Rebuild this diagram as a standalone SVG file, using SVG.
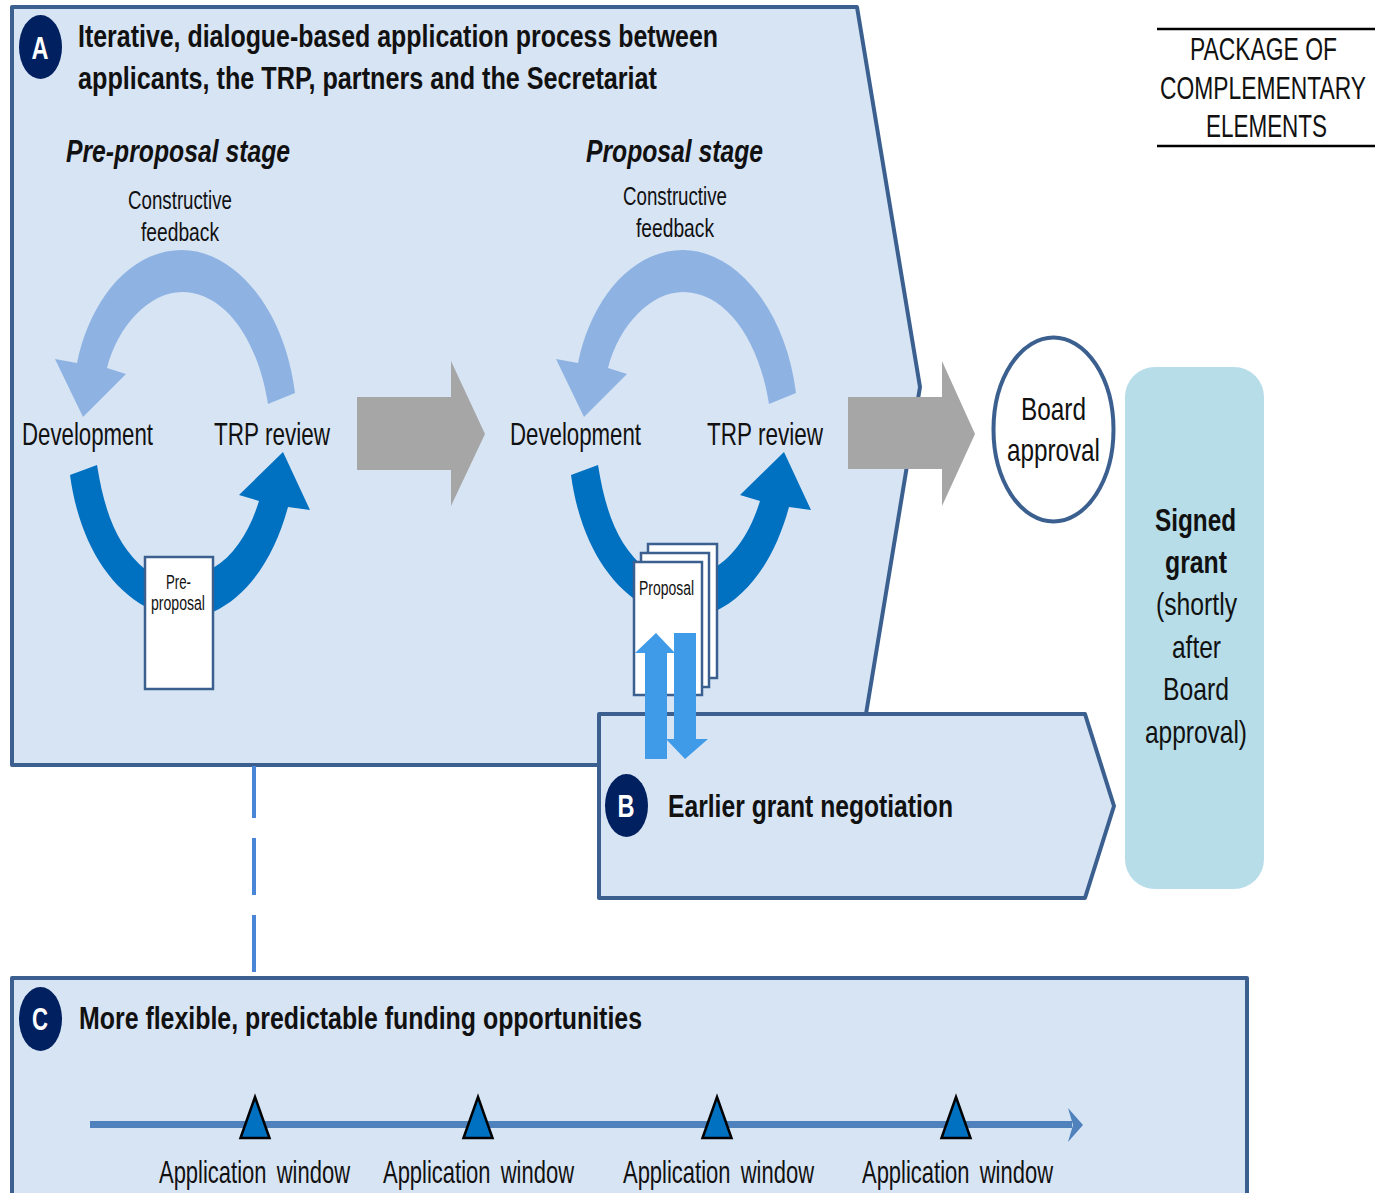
<svg xmlns="http://www.w3.org/2000/svg" width="1375" height="1193" viewBox="0 0 1375 1193">
<style>
text{font-family:"Liberation Sans",Arial,sans-serif;fill:#111}
.bi{font-weight:bold;font-style:italic;font-size:32px}
.t{font-size:32px;font-weight:bold}
.l{font-size:31.5px}
.aw{font-size:31.5px;word-spacing:6px}
.s{font-size:25px}
.d{font-size:20.5px}
.w{fill:#fff;font-weight:bold;font-size:32px;text-anchor:middle}
.box{fill:#d7e4f4;stroke:#3b6090;stroke-width:4;stroke-linejoin:round}
.doc{fill:#fff;stroke:#3b6090;stroke-width:2.5}
.gray{fill:#a6a6a6}
.light{fill:#8eb3e3}
.dark{fill:#0070c0}
.mid{fill:#3f9be8}
.tri{fill:#0070c0;stroke:#000;stroke-width:2.5;stroke-linejoin:miter}
.badge{fill:#002060}
</style>
<defs>
<path id="loopLight" class="light" d="M295,393C285,310 235,250 182,250C130,250 90,300 77,363L55,359L83,417L126,374L107,368C118,325 150,292 182,292C225,292 258,340 268,404Z"/>
<path id="loopDark" class="dark" d="M70,475L97,465C105,515 118,547 146,570L213,568C235,555 250,530 259,501L239,495L283,452L310,510L288,507C275,555 250,595 213,612L146,607C105,585 78,535 70,475Z"/>
<polygon id="tri" class="tri" points="0,-28 14.5,13 -14.5,13"/>
</defs>

<g id="node-a">
<polygon class="box" points="12,7 857,7 920,387 866,714 866,765 12,765"/>
<ellipse class="badge" cx="40.5" cy="47" rx="21.5" ry="32"/>
<text class="w" x="40" y="59" textLength="17" lengthAdjust="spacingAndGlyphs">A</text>
<text class="t" x="78" y="47" textLength="640" lengthAdjust="spacingAndGlyphs">Iterative, dialogue-based application process between</text>
<text class="t" x="78" y="89" textLength="579" lengthAdjust="spacingAndGlyphs">applicants, the TRP, partners and the Secretariat</text>
</g>

<g id="node-c">
<polygon class="box" points="12,1200 12,978 1247,978 1247,1200"/>
<ellipse class="badge" cx="40.5" cy="1019" rx="21.5" ry="32"/>
<text class="w" x="40" y="1030" textLength="16" lengthAdjust="spacingAndGlyphs">C</text>
<text class="t" x="79" y="1029" textLength="563" lengthAdjust="spacingAndGlyphs">More flexible, predictable funding opportunities</text>
</g>

<g id="node-b">
<polygon class="box" points="599,714 1085,714 1114,806 1085,898 599,898"/>
<ellipse class="badge" cx="626.5" cy="805.5" rx="21.5" ry="31.5"/>
<text class="w" x="626" y="817" textLength="17" lengthAdjust="spacingAndGlyphs">B</text>
<text class="t" x="668" y="817" textLength="285" lengthAdjust="spacingAndGlyphs">Earlier grant negotiation</text>
</g>

<g id="connectors">
<path d="M254,766V818M254,838V895M254,915V972" fill="none" stroke="#4a86d8" stroke-width="4"/>
<polygon class="gray" points="357,397 451,397 451,361 485,434 451,506 451,470 357,470"/>
<polygon class="gray" points="848,397 942,397 942,361 975,434 942,506 942,469 848,469"/>
<use href="#loopLight"/>
<use href="#loopDark"/>
<use href="#loopLight" x="501"/>
<use href="#loopDark" x="501"/>
</g>

<g id="stage-pre">
<text class="bi" x="66" y="162" textLength="224" lengthAdjust="spacingAndGlyphs">Pre-proposal stage</text>
<text class="s" x="128" y="209" textLength="104" lengthAdjust="spacingAndGlyphs">Constructive</text>
<text class="s" x="141" y="241" textLength="78" lengthAdjust="spacingAndGlyphs">feedback</text>
<text class="l" x="22" y="445" textLength="131" lengthAdjust="spacingAndGlyphs">Development</text>
<text class="l" x="214" y="445" textLength="116" lengthAdjust="spacingAndGlyphs">TRP review</text>
</g>

<g id="stage-proposal">
<text class="bi" x="586" y="162" textLength="177" lengthAdjust="spacingAndGlyphs">Proposal stage</text>
<text class="s" x="623" y="205" textLength="104" lengthAdjust="spacingAndGlyphs">Constructive</text>
<text class="s" x="636" y="237" textLength="78" lengthAdjust="spacingAndGlyphs">feedback</text>
<text class="l" x="510" y="445" textLength="131" lengthAdjust="spacingAndGlyphs">Development</text>
<text class="l" x="707" y="445" textLength="116" lengthAdjust="spacingAndGlyphs">TRP review</text>
</g>

<g id="doc-preproposal">
<rect class="doc" x="145" y="557" width="68" height="132"/>
<text class="d" x="166" y="589" textLength="25" lengthAdjust="spacingAndGlyphs">Pre-</text>
<text class="d" x="151" y="610" textLength="54" lengthAdjust="spacingAndGlyphs">proposal</text>
</g>

<g id="doc-proposal">
<rect class="doc" x="648" y="544" width="69" height="134"/>
<rect class="doc" x="641" y="553" width="68" height="134"/>
<rect class="doc" x="634" y="562" width="68" height="133"/>
<text class="d" x="639" y="595" textLength="55" lengthAdjust="spacingAndGlyphs">Proposal</text>
</g>

<g id="exchange-arrows">
<polygon class="mid" points="645,759 645,653 635,653 656,633 675,653 667,653 667,759"/>
<polygon class="mid" points="674,633 696,633 696,739 708,739 685,759 666,739 674,739"/>
</g>

<g id="node-board">
<ellipse cx="1053.5" cy="429.5" rx="60" ry="92" fill="#fff" stroke="#3b6090" stroke-width="4"/>
<text class="l" x="1021" y="420" textLength="65" lengthAdjust="spacingAndGlyphs">Board</text>
<text class="l" x="1007" y="461" textLength="93" lengthAdjust="spacingAndGlyphs">approval</text>
</g>

<g id="node-grant">
<rect x="1125" y="367" width="139" height="522" rx="30" fill="#b6dde8"/>
<text class="t" x="1155" y="531" textLength="81" lengthAdjust="spacingAndGlyphs">Signed</text>
<text class="t" x="1165" y="573" textLength="62" lengthAdjust="spacingAndGlyphs">grant</text>
<text class="l" x="1156" y="615" textLength="81" lengthAdjust="spacingAndGlyphs">(shortly</text>
<text class="l" x="1172" y="658" textLength="49" lengthAdjust="spacingAndGlyphs">after</text>
<text class="l" x="1163" y="700" textLength="66" lengthAdjust="spacingAndGlyphs">Board</text>
<text class="l" x="1145" y="743" textLength="102" lengthAdjust="spacingAndGlyphs">approval)</text>
</g>

<g id="node-package">
<path d="M1157,29H1375M1157,146H1375" stroke="#000" stroke-width="2.5" fill="none"/>
<text class="l" x="1190" y="60" textLength="147" lengthAdjust="spacingAndGlyphs">PACKAGE OF</text>
<text class="l" x="1160" y="99" textLength="206" lengthAdjust="spacingAndGlyphs">COMPLEMENTARY</text>
<text class="l" x="1206" y="137" textLength="121" lengthAdjust="spacingAndGlyphs">ELEMENTS</text>
</g>

<g id="timeline">
<path d="M90,1124.5H1072" stroke="#4f81bd" stroke-width="7" fill="none"/>
<polygon fill="#4f81bd" points="1068,1108 1083,1125 1068,1142 1073,1125"/>
<use href="#tri" x="255" y="1125"/>
<use href="#tri" x="478" y="1125"/>
<use href="#tri" x="717" y="1125"/>
<use href="#tri" x="956" y="1125"/>
<text class="aw" x="159" y="1183" textLength="191" lengthAdjust="spacingAndGlyphs">Application window</text>
<text class="aw" x="383" y="1183" textLength="191" lengthAdjust="spacingAndGlyphs">Application window</text>
<text class="aw" x="623" y="1183" textLength="191" lengthAdjust="spacingAndGlyphs">Application window</text>
<text class="aw" x="862" y="1183" textLength="191" lengthAdjust="spacingAndGlyphs">Application window</text>
</g>
</svg>
